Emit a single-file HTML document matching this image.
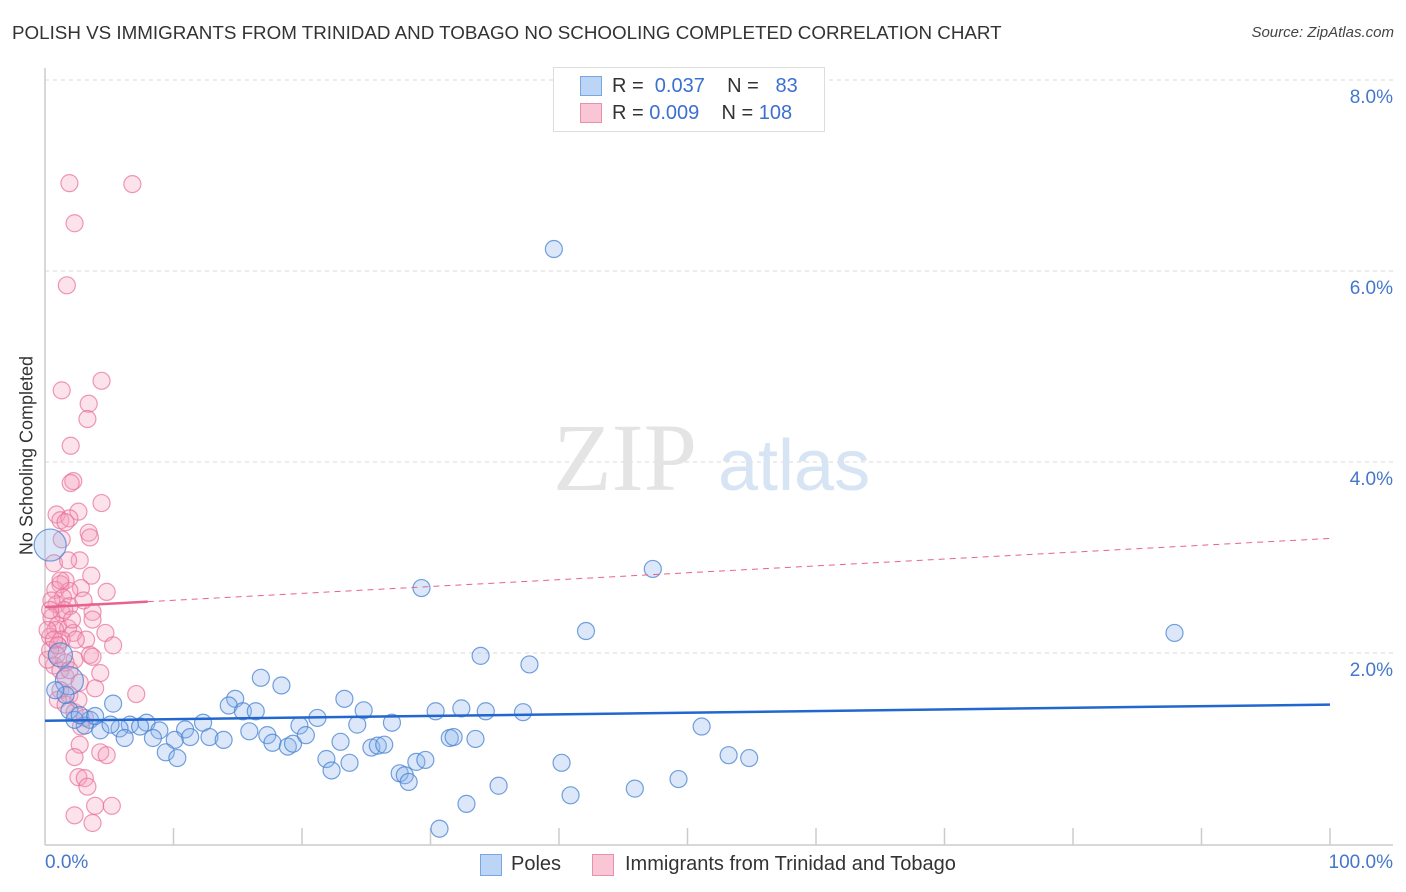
<!DOCTYPE html>
<html><head><meta charset="utf-8">
<style>
body{margin:0;background:#fff;font-family:"Liberation Sans",sans-serif;}
#wrap{position:relative;width:1406px;height:892px;overflow:hidden;}
.t{position:absolute;white-space:nowrap;}
</style></head>
<body>
<div id="wrap">
<div class="t" style="left:12px;top:22px;font-size:18.8px;color:#333;">POLISH VS IMMIGRANTS FROM TRINIDAD AND TOBAGO NO SCHOOLING COMPLETED CORRELATION CHART</div>
<div class="t" style="right:12px;top:24px;font-size:15px;color:#444;font-style:italic;">Source: ZipAtlas.com</div>
<svg id="plot" width="1406" height="892" style="position:absolute;left:0;top:0"></svg>
</div>
<script>
const poleX=[39.6,47.3,29.3,42.1,87.9,33.9,37.7,16.8,18.4,5.3,14.8,14.3,23.3,24.8,30.4,32.4,34.3,37.2,15.4,16.4,21.2,19.8,24.3,27.0,51.1,10.9,12.3,7.9,6.6,8.9,5.8,3.5,3.1,4.3,10.1,11.3,12.8,13.9,8.4,6.2,15.9,17.3,17.7,18.9,19.3,20.3,23.0,25.4,25.9,26.4,31.5,31.8,33.5,9.4,10.3,21.9,23.7,22.3,28.9,29.6,27.6,28.0,28.3,40.2,53.2,54.8,35.3,49.3,45.9,40.9,32.8,30.7,1.9,1.2,1.9,0.4,1.6,2.3,2.7,5.1,7.4,3.9,0.8];
const poleY=[6.23,2.88,2.68,2.23,2.21,1.97,1.88,1.74,1.66,1.47,1.52,1.45,1.52,1.40,1.39,1.42,1.39,1.38,1.39,1.39,1.32,1.24,1.25,1.27,1.23,1.20,1.27,1.27,1.25,1.19,1.21,1.30,1.24,1.19,1.09,1.12,1.12,1.09,1.11,1.11,1.18,1.14,1.06,1.02,1.05,1.14,1.07,1.01,1.03,1.04,1.11,1.12,1.10,0.96,0.90,0.89,0.85,0.77,0.86,0.88,0.74,0.72,0.65,0.85,0.93,0.90,0.61,0.68,0.58,0.51,0.42,0.16,1.71,1.98,1.40,3.13,1.56,1.30,1.35,1.25,1.23,1.34,1.61];
const trinX=[1.9,6.8,2.3,1.7,1.3,4.4,3.4,3.3,2.0,2.2,2.0,4.4,2.6,0.9,1.2,1.9,1.6,3.4,3.5,1.3,2.7,0.7,3.6,1.6,1.2,0.8,4.8,2.8,1.9,1.4,0.9,1.9,3.7,1.3,0.5,1.0,1.8,2.2,0.8,0.4,4.7,3.2,5.3,1.3,1.0,3.5,3.7,2.3,0.7,1.2,4.3,1.6,2.7,3.9,7.1,1.2,1.9,1.0,1.6,2.3,3.1,2.8,2.7,2.3,4.3,4.8,2.6,3.1,3.3,3.9,5.2,2.3,3.7,1.0,0.2,0.5,1.5,2.1,0.4,0.9,1.6,2.4,3.0,3.7,0.2,0.7,1.2,1.8,0.4,2.6,1.9];
const trinY=[6.92,6.91,6.50,5.85,4.75,4.85,4.61,4.45,4.17,3.80,3.78,3.57,3.48,3.45,3.39,3.41,3.37,3.26,3.21,3.19,2.97,2.94,2.81,2.76,2.72,2.66,2.64,2.68,2.65,2.58,2.51,2.49,2.43,2.42,2.37,2.29,2.26,2.21,2.24,2.17,2.21,2.14,2.08,2.14,2.08,1.98,1.96,1.93,1.87,1.82,1.79,1.75,1.69,1.63,1.57,1.61,1.56,1.51,1.46,1.38,1.32,1.23,1.04,0.91,0.96,0.93,0.70,0.69,0.60,0.40,0.40,0.30,0.22,2.08,1.93,2.55,2.45,2.35,2.03,1.98,1.90,2.14,2.55,2.35,2.24,2.14,2.76,2.97,2.45,1.51,1.82];
const yTicks=[2,4,6,8];
const yTickLabels=["2.0%","4.0%","6.0%","8.0%"];
const poleTrend=[1.29,1.46];
const trinTrend=[2.48,3.20];

const NS="http://www.w3.org/2000/svg";
const svg=document.getElementById('plot');
const X=v=>45+v*12.85;
const Y=v=>844-v*95.5;
function mk(tag,attrs){const e=document.createElementNS(NS,tag);for(const k in attrs)e.setAttribute(k,attrs[k]);svg.appendChild(e);return e;}
yTicks.forEach((t,i)=>{
 const g=mk('line',{x1:45,x2:1393,y1:Y(t),y2:Y(t),stroke:'#d8d8d8','stroke-dasharray':'4,4'});
 
 
 const l=mk('text',{x:1393,y:Y(t)+23,'text-anchor':'end','font-size':19,fill:'#4477cc','font-family':'Liberation Sans, sans-serif'});
 l.textContent=yTickLabels[i];
 
 
});
const ax=mk('line',{x1:45,x2:1393,y1:845,y2:845,stroke:'#ccc','stroke-width':1.5});


const ay=mk('line',{x1:45,x2:45,y1:68,y2:845,stroke:'#ccc','stroke-width':1.5});


for(let i=1;i<=10;i++){
 const tk=mk('line',{x1:X(i*10),x2:X(i*10),y1:828,y2:845,stroke:'#ccc','stroke-width':1.5});
 
 
}
const w1=mk('text',{x:553,y:490,'font-size':96,fill:'#e4e4e4','font-family':'Liberation Serif, serif'});w1.textContent='ZIP';


const w2=mk('text',{x:718,y:490,'font-size':72,fill:'#d6e4f4','font-family':'Liberation Sans, sans-serif'});w2.textContent='atlas';


trinX.forEach((x,i)=>{
 const c=mk('circle',{cx:X(x),cy:Y(trinY[i]),r:8.5,fill:'rgba(244,160,188,0.3)',stroke:'rgba(232,110,150,0.7)','stroke-width':1.2});
 
 
});
const bigR={72:14,73:12,75:16};
poleX.forEach((x,i)=>{
 const c=mk('circle',{cx:X(x),cy:Y(poleY[i]),r:bigR[i]||8.5,fill:'rgba(140,180,235,0.3)',stroke:'rgba(70,130,210,0.75)','stroke-width':1.2});
 
 
});
const tp=mk('line',{x1:X(0),x2:X(100),y1:Y(poleTrend[0]),y2:Y(poleTrend[1]),stroke:'#2266d0','stroke-width':2.5});


const f=v=>trinTrend[0]+(trinTrend[1]-trinTrend[0])*v/100;
const tt1=mk('line',{x1:X(0),x2:X(8),y1:Y(f(0)),y2:Y(f(8)),stroke:'#e8628e','stroke-width':2.5});


const tt2=mk('line',{x1:X(8),x2:X(100),y1:Y(f(8)),y2:Y(f(100)),stroke:'#e8628e','stroke-width':1,'stroke-dasharray':'6,5'});


</script>
<div class="t" style="left:-73px;top:445px;transform:rotate(-90deg);font-size:18px;color:#333;width:200px;text-align:center;">No Schooling Completed</div>
<div class="t" style="left:45px;top:852px;font-size:19px;color:#4477cc;">0.0%</div>
<div class="t" style="right:13px;top:852px;font-size:19px;color:#4477cc;">100.0%</div>
<div style="position:absolute;left:553px;top:67px;width:270px;height:63px;border:1px solid #ddd;background:#fff;font-size:20px;">
 <div style="position:absolute;left:26px;top:8px;width:20px;height:18px;background:#bcd4f6;border:1px solid #7aa6e0;"></div>
 <div class="t" style="left:58px;top:7px;color:#333;">R = <span style="color:#3b6fd0">&nbsp;0.037</span>&nbsp;&nbsp;&nbsp;&nbsp;N = <span style="color:#3b6fd0">&nbsp;&nbsp;83</span></div>
 <div style="position:absolute;left:26px;top:35px;width:20px;height:18px;background:#f9c6d6;border:1px solid #e890ac;"></div>
 <div class="t" style="left:58px;top:34px;color:#333;">R = <span style="color:#3b6fd0">0.009</span>&nbsp;&nbsp;&nbsp;&nbsp;N = <span style="color:#3b6fd0">108</span></div>
</div>
<div style="position:absolute;left:480px;top:854px;">
 <div style="position:absolute;left:0;top:0;width:20px;height:20px;background:#bcd4f6;border:1px solid #7aa6e0;"></div>
 <div class="t" style="left:31px;top:-1px;font-size:20px;color:#333;">Poles</div>
</div>
<div style="position:absolute;left:592px;top:854px;">
 <div style="position:absolute;left:0;top:0;width:20px;height:20px;background:#f9c6d6;border:1px solid #e890ac;"></div>
 <div class="t" style="left:33px;top:-1px;font-size:20px;color:#333;">Immigrants from Trinidad and Tobago</div>
</div>
</body></html>
